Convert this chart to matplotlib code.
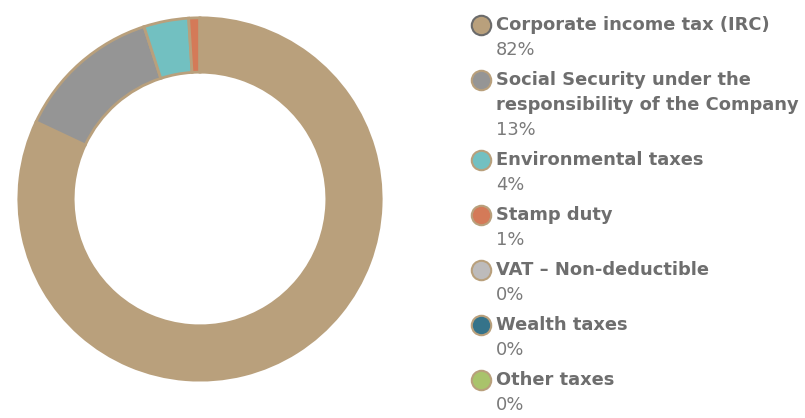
import matplotlib.pyplot as plt

# tax breakdown
labels = ["Corporate income tax (IRC)",
          "Social Security under the\nresponsibility of the Company",
          "Environmental taxes",
          "Stamp duty",
          "VAT \u2013 Non-deductible",
          "Wealth taxes",
          "Other taxes"]
shares = [82, 13, 4, 1, 0, 0, 0]
colors = ["#b9a07c", "#959595", "#72c0c1", "#d47a58", "#bdbbbb", "#35738a", "#a9c36b"]

edge = "#b9a07c"
text_col = "#6e6e6e"

fig = plt.figure(figsize=(8.05, 4.18), dpi=100)

# donut
ax = fig.add_axes([17 / 805, 1 - 382 / 418, 366 / 805, 366 / 418])
ax.pie(shares, colors=colors, startangle=90, counterclock=False,
       wedgeprops=dict(width=0.30, edgecolor=edge, linewidth=2))
ax.set_xlim(-1.01, 1.01)
ax.set_ylim(-1.01, 1.01)
ax.set_aspect("equal")

# legend drawn by hand in pixel coords
lg = fig.add_axes([0, 0, 1, 1])
lg.set_xlim(0, 805)
lg.set_ylim(418, 0)
lg.axis("off")

y = 25
for i, (lab, val) in enumerate(zip(labels, shares)):
    mec = "#6b6b6b" if i == 0 else edge
    lg.plot(481, y, "o", ms=14, mfc=colors[i], mec=mec, mew=1.5)
    for line in lab.split("\n"):
        lg.text(496, y, line, fontsize=12.9, fontweight="bold", color=text_col,
                family="DejaVu Sans", va="center", ha="left")
        y += 25
    lg.text(496, y, f"{val}%", fontsize=12.9, color="#7a7a7a",
            family="DejaVu Sans", va="center", ha="left")
    y += 30

fig.savefig("out.png", dpi=100)
